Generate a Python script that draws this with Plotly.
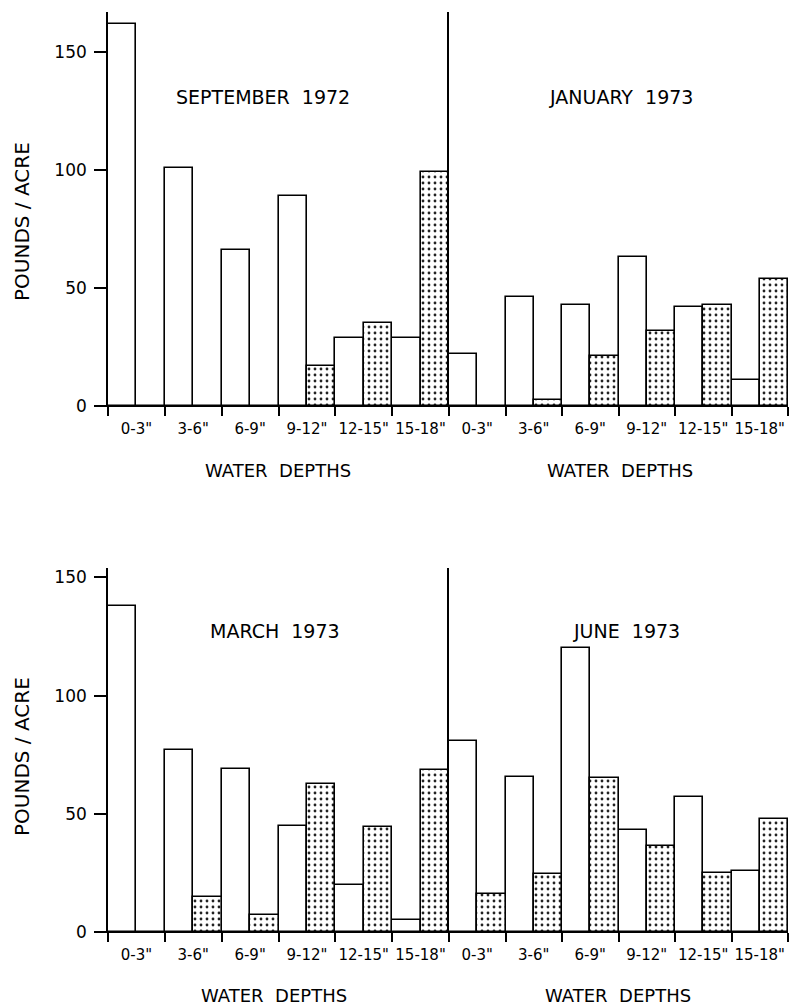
import plotly.graph_objects as go

# ---- data (pounds per acre) ----
depths = ['0-3"', '3-6"', '6-9"', '9-12"', '12-15"', '15-18"']
months = ["SEPTEMBER  1972", "JANUARY  1973", "MARCH  1973", "JUNE  1973"]

sep_open = [162, 101, 66, 89, 29, 29]
sep_stip = [0, 0, 0, 17, 35, 99]
jan_open = [22, 46, 43, 63, 42, 11]
jan_stip = [0, 2.5, 21, 32, 43, 54]
mar_open = [138, 77, 69, 45, 20, 5]
mar_stip = [0, 15, 7, 62.5, 44.5, 68.5]
jun_open = [81, 65.5, 120, 43, 57, 26]
jun_stip = [16, 24.5, 65, 36.5, 25, 48]

ytick_vals = [0, 50, 100, 150]
ytick_text = ["0", "50", "100", "150"]

W, H = 796, 1006
FONT = "DejaVu Sans"

def px_x(p):
    return p / W

def px_y(p):
    return 1 - p / H

# panel pixel geometry
x_left = (108, 449)
x_right = (449, 788)
y_top = (12, 406)      # (top px, zero px)
y_bot = (568, 932)
top_range = [0, 167]
bot_range = [0, 154]

fig = go.Figure()

panels = [
    (sep_open, sep_stip, "x", "y"),
    (jan_open, jan_stip, "x2", "y2"),
    (mar_open, mar_stip, "x3", "y3"),
    (jun_open, jun_stip, "x4", "y4"),
]

for op, st, xa, ya in panels:
    fig.add_trace(go.Bar(
        x=depths, y=op, xaxis=xa, yaxis=ya,
        marker=dict(color="white", line=dict(color="black", width=1.6)),
        showlegend=False,
    ))
    fig.add_trace(go.Bar(
        x=depths, y=st, xaxis=xa, yaxis=ya,
        marker=dict(color="white", line=dict(color="black", width=1.6),
                    pattern=dict(shape=".", fgcolor="#222222", bgcolor="white",
                                 size=6, solidity=0.17, fillmode="replace")),
        showlegend=False,
    ))

def xaxis_cfg(dom, anchor):
    return dict(
        domain=[px_x(dom[0]), px_x(dom[1])], anchor=anchor, type="category",
        tickson="boundaries", ticks="outside", ticklen=9, tickwidth=1.5,
        tickcolor="black", showline=True, linecolor="black", linewidth=1.4,
        showgrid=False, zeroline=False, ticklabelstandoff=9, tickangle=0,
        automargin=False,
        tickfont=dict(family=FONT, size=15, color="black"),
    )

def yaxis_cfg(dom, anchor, rng, labels):
    return dict(
        domain=[px_y(dom[1]), px_y(dom[0])], anchor=anchor, range=rng,
        tickvals=ytick_vals if labels else [], ticktext=ytick_text if labels else [],
        ticks="outside" if labels else "", ticklen=12, tickwidth=1.5,
        tickcolor="black", showline=True, linecolor="black", linewidth=1.6,
        showgrid=False, zeroline=False, showticklabels=labels,
        ticklabelstandoff=4, automargin=False,
        tickfont=dict(family=FONT, size=17, color="black"),
    )

fig.update_layout(
    width=W, height=H,
    margin=dict(l=0, r=0, t=0, b=0, autoexpand=False),
    paper_bgcolor="white", plot_bgcolor="rgba(0,0,0,0)",
    barmode="group", bargap=0, bargroupgap=0,
    xaxis=xaxis_cfg(x_left, "y"),
    xaxis2=xaxis_cfg(x_right, "y2"),
    xaxis3=xaxis_cfg(x_left, "y3"),
    xaxis4=xaxis_cfg(x_right, "y4"),
    yaxis=yaxis_cfg(y_top, "x", top_range, True),
    yaxis2=yaxis_cfg(y_top, "x2", top_range, False),
    yaxis3=yaxis_cfg(y_bot, "x3", bot_range, True),
    yaxis4=yaxis_cfg(y_bot, "x4", bot_range, False),
    font=dict(family=FONT, color="black"),
)

ann = []
# panel titles
for text, cx, cy in [(months[0], 263, 97), (months[1], 621, 97),
                     (months[2], 275, 631), (months[3], 626, 631)]:
    ann.append(dict(text=text, x=px_x(cx), y=px_y(cy), xref="paper", yref="paper",
                    showarrow=False, xanchor="center", yanchor="middle",
                    font=dict(family=FONT, size=19, color="black")))
# x axis titles
for cx, cy in [(278, 470), (620, 470), (274, 995), (618, 995)]:
    ann.append(dict(text="WATER  DEPTHS", x=px_x(cx), y=px_y(cy), xref="paper", yref="paper",
                    showarrow=False, xanchor="center", yanchor="middle",
                    font=dict(family=FONT, size=18, color="black")))
# y axis titles
for cy in [222, 757]:
    ann.append(dict(text="POUNDS / ACRE", x=px_x(22), y=px_y(cy), xref="paper", yref="paper",
                    showarrow=False, xanchor="center", yanchor="middle", textangle=-90,
                    font=dict(family=FONT, size=20, color="black")))
fig.update_layout(annotations=ann)

fig.write_html("out.html", config={"displayModeBar": False},
               post_script="document.body.style.margin='0';")
